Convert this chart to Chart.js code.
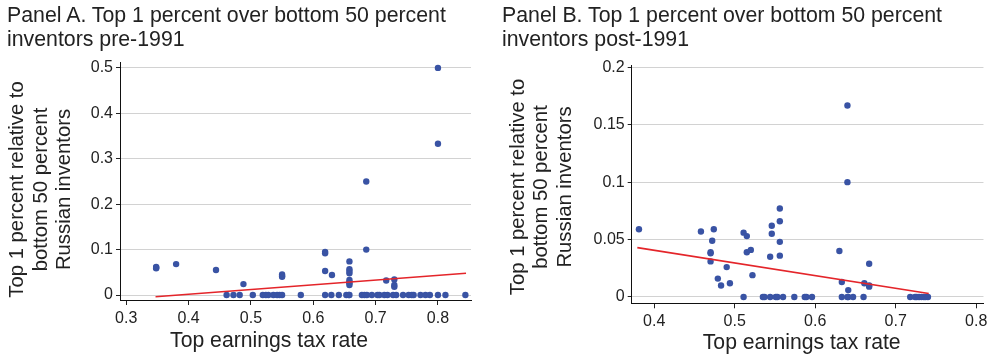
<!DOCTYPE html>
<html><head><meta charset="utf-8">
<script src="https://cdn.jsdelivr.net/npm/chart.js@4.4.1/dist/chart.umd.min.js"></script>
<style>
html,body{margin:0;padding:0;background:#fff;}
#wrap{position:relative;width:991px;height:360px;overflow:hidden;background:#fff;}
.ptitle{position:absolute;top:4.2px;font-family:"Liberation Sans",Arial,sans-serif;font-size:21.3px;line-height:23.4px;color:#222;white-space:nowrap;}
.cv{position:absolute;top:0;}
</style></head><body>
<div id="wrap">
<div class="cv" style="left:0;width:495px;height:360px"><canvas id="cA" width="495" height="360"></canvas></div>
<div class="cv" style="left:495px;width:496px;height:360px"><canvas id="cB" width="496" height="360"></canvas></div>
<div class="ptitle" style="left:7px">Panel A. Top 1 percent over bottom 50 percent<br>inventors pre-1991</div>
<div class="ptitle" style="left:502px">Panel B. Top 1 percent over bottom 50 percent<br>inventors post-1991</div>
</div>
<script>
// ---- Panel A data (pre-1991) ----
const panelA_x = [0.348,0.348,0.348,0.380,0.444,0.488,0.550,0.550,0.550,0.619,0.619,0.619,0.630,
  0.658,0.658,0.658,0.658,0.658,0.658,0.658,0.658,0.685,0.685,0.717,0.730,0.730,0.730,0.800,0.800,
  0.461,0.472,0.482,0.503,0.519,0.524,0.528,0.536,0.542,0.546,0.550,0.580,0.619,0.629,0.641,0.653,
  0.657,0.658,0.678,0.682,0.686,0.694,0.703,0.706,0.714,0.719,0.728,0.733,0.744,0.753,0.758,0.761,
  0.772,0.780,0.787,0.800,0.812,0.844];
const panelA_y = [0.059,0.062,0.060,0.068,0.055,0.024,0.045,0.042,0.040,0.095,0.092,0.053,0.044,
  0.074,0.057,0.053,0.048,0.033,0.029,0.026,0.022,0.250,0.100,0.032,0.034,0.022,0.018,0.500,0.333,
  0,0,0,0,0,0,0,0,0,0,0,0,0,0,0,0,
  0,0,0,0,0,0,0,0,0,0,0,0,0,0,0,0,
  0,0,0,0,0,0];
const fitA_x = [0.347, 0.845];
const fitA_y = [-0.004, 0.048];
const xTicksA = [0.3,0.4,0.5,0.6,0.7,0.8];
const xLabelsA = ["0.3","0.4","0.5","0.6","0.7","0.8"];
const yTicksA = [0,0.1,0.2,0.3,0.4,0.5];
const yLabelsA = ["0","0.1","0.2","0.3","0.4","0.5"];

// ---- Panel B data (post-1991) ----
const panelB_x = [0.381,0.458,0.474,0.472,0.470,0.470,0.470,0.479,0.483,0.490,0.494,0.511,0.515,0.515,
  0.520,0.522,0.546,0.546,0.544,0.556,0.556,0.556,0.556,0.630,0.640,0.640,0.633,0.641,0.667,0.661,
  0.667,0.667,
  0.511,0.535,0.537,0.544,0.551,0.553,0.560,0.574,0.587,0.589,0.596,0.633,0.640,0.641,0.647,0.660,
  0.718,0.724,0.726,0.729,0.732,0.735,0.737,0.740];
const panelB_y = [0.059,0.057,0.059,0.049,0.039,0.038,0.031,0.016,0.010,0.026,0.012,0.056,0.053,0.039,
  0.041,0.019,0.062,0.055,0.035,0.077,0.066,0.048,0.036,0.040,0.1667,0.100,0.013,0.006,0.029,0.012,
  0.010,0.009,
  0,0,0,0,0,0,0,0,0,0,0,0,0,0,0,0,
  0,0,0,0,0,0,0,0];
const fitB_x = [0.379, 0.741];
const fitB_y = [0.043, 0.003];
const xTicksB = [0.4,0.5,0.6,0.7,0.8];
const xLabelsB = ["0.4","0.5","0.6","0.7","0.8"];
const yTicksB = [0,0.05,0.1,0.15,0.2];
const yLabelsB = ["0","0.05","0.1","0.15","0.2"];

const yTitle = ["Top 1 percent relative to","bottom 50 percent","Russian inventors"];
const xTitle = "Top earnings tax rate";

const FONT = '"Liberation Sans", Arial, sans-serif';
const TXT = '#222';
const DOT = '#3953a4';
const RED = '#e4252a';

function pts(xs, ys){ return xs.map((x,i)=>({x:x, y:ys[i]})); }

function make(id, o){
  return new Chart(document.getElementById(id), {
    type: 'scatter',
    data: { datasets: [
      { data: pts(o.fx, o.fy), showLine: true, borderColor: RED, borderWidth: 1.6,
        pointRadius: 0, fill: false, order: 0 },
      { data: pts(o.px, o.py), backgroundColor: DOT, borderWidth: 0, pointRadius: 3.2,
        pointHoverRadius: 3.2, order: 1 }
    ]},
    options: {
      responsive: false, animation: false, devicePixelRatio: 1,
      layout: { padding: { top: o.top, right: o.right, bottom: 0, left: 0 } },
      plugins: { legend: { display: false }, tooltip: { enabled: false } },
      scales: {
        x: {
          type: 'linear', min: o.xmin, max: o.xmax,
          afterBuildTicks: s => { s.ticks = o.xt.map(v => ({ value: v })); },
          afterFit: s => { s.height = o.xh; },
          ticks: { autoSkip: false, maxRotation: 0, padding: 3.5, color: TXT,
                   font: { family: FONT, size: 16 },
                   callback: (v, i) => o.xl[i] },
          grid: { drawOnChartArea: false, tickColor: '#222', tickLength: 5, lineWidth: 1 },
          border: { color: '#111', width: 1 },
          title: { display: true, text: xTitle + o.xpad, color: TXT,
                   font: { family: FONT, size: 21.2, lineHeight: 1.17 },
                   padding: { top: 0, bottom: o.xtb } }
        },
        y: {
          type: 'linear', min: o.ymin, max: o.ymax,
          afterBuildTicks: s => { s.ticks = o.yt.map(v => ({ value: v })); },
          afterFit: s => { s.width = o.yw; },
          ticks: { autoSkip: false, padding: 3, color: TXT,
                   font: { family: FONT, size: 16 },
                   callback: (v, i) => o.yl[i] },
          grid: { color: '#d2d2d2', lineWidth: 1, tickColor: '#222', tickLength: 4 },
          border: { color: '#111', width: 1 },
          title: { display: true, text: yTitle.map(t => t + o.ypad), color: TXT,
                   font: { family: FONT, size: 20.3, lineHeight: 1.16 },
                   padding: { top: o.ytp, bottom: 0 } }
        }
      }
    }
  });
}

make('cA', { px: panelA_x, py: panelA_y, fx: fitA_x, fy: fitA_y,
  xt: xTicksA, xl: xLabelsA, yt: yTicksA, yl: yLabelsA,
  xmin: 0.290, xmax: 0.853, ymin: -0.011, ymax: 0.513,
  top: 62, right: 24, xh: 60, yw: 120, xtb: 6.6, ytp: 6,
  xpad: '         ', ypad: '   ' });

make('cB', { px: panelB_x, py: panelB_y, fx: fitB_x, fy: fitB_y,
  xt: xTicksB, xl: xLabelsB, yt: yTicksB, yl: yLabelsB,
  xmin: 0.372, xmax: 0.809, ymin: -0.0055, ymax: 0.202,
  top: 65, right: 7, xh: 56.7, yw: 136.7, xtb: 4.1, ytp: 11.5,
  xpad: '  ', ypad: ' ' });
</script>
</body></html>
